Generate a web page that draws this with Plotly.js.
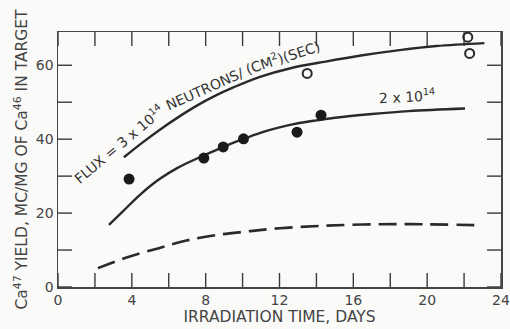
<!DOCTYPE html>
<html>
<head>
<meta charset="utf-8">
<script src="https://cdn.plot.ly/plotly-3.0.1.min.js"></script>
<style>html,body{margin:0;padding:0;background:#fafaf8;}#chart{width:510px;height:329px;}</style>
</head>
<body>
<div id="chart"></div>
<script>
// Curve: flux 3x10^14 (solid)
const curve3e14X = [3.57, 4.5, 5.5, 6.5, 7.5, 8.5, 9.5, 10.9, 12.6, 14.5, 16.5, 18.5, 20.5, 23.1];
const curve3e14Y = [35.1, 38.8, 42.5, 45.9, 49.0, 51.7, 54.0, 56.8, 59.2, 61.0, 62.7, 64.1, 65.2, 66.0];
// Curve: flux 2x10^14 (solid)
const curve2e14X = [2.76, 3.5, 4.5, 5.5, 6.5, 7.5, 9.0, 10.0, 11.0, 12.0, 13.0, 14.0, 15.0, 17.0, 19.0, 22.05];
const curve2e14Y = [16.8, 20.4, 25.2, 29.2, 32.3, 34.7, 38.0, 40.0, 41.8, 43.2, 44.3, 45.1, 45.8, 46.8, 47.6, 48.3];
// Lower dashed curve
const dashedX = [2.16, 3.84, 5.46, 6.9, 8.5, 10.2, 12.0, 14.1, 16.5, 19.1, 22.9];
const dashedY = [5.1, 8.2, 10.5, 12.5, 14.0, 15.0, 15.9, 16.5, 16.9, 17.0, 16.7];
// Measured points
const openX = [13.5, 22.2, 22.3];
const openY = [57.8, 67.6, 63.2];
const filledX = [3.85, 7.9, 8.95, 10.05, 12.95, 14.25];
const filledY = [29.2, 34.9, 37.9, 40.1, 41.9, 46.5];
// Axis ticks
const xTickVals = [0, 2, 4, 6, 8, 10, 12, 14, 16, 18, 20, 22, 24];
const xTickText = ["0", "", "4", "", "8", "", "12", "", "16", "", "20", "", "24"];
const yTickVals = [0, 10, 20, 30, 40, 50, 60];
const yTickText = ["0", "", "20", "", "40", "", "60"];

const ink = '#2a2a2a';
const font = 'DejaVu Sans, sans-serif';
const W = 510, H = 329;
const M = {l: 58, r: 9, t: 32, b: 42};
const X_RANGE = [0, 24], Y_RANGE = [0, 69];
const TICK_PX = 14;
// tick length converted into data units through the axis scales
const xPerPx = (X_RANGE[1] - X_RANGE[0]) / (W - M.l - M.r);
const yPerPx = (Y_RANGE[1] - Y_RANGE[0]) / (H - M.t - M.b);
const tx = [], ty = [];
xTickVals.forEach(v => {
  tx.push(v, v, null, v, v, null);
  ty.push(Y_RANGE[0], Y_RANGE[0] + TICK_PX * yPerPx, null, Y_RANGE[1], Y_RANGE[1] - TICK_PX * yPerPx, null);
});
yTickVals.forEach(v => {
  tx.push(X_RANGE[0], X_RANGE[0] + TICK_PX * xPerPx, null, X_RANGE[1], X_RANGE[1] - TICK_PX * xPerPx, null);
  ty.push(v, v, null, v, v, null);
});

const traces = [
  {x: tx, y: ty, mode: 'lines', line: {color: '#3a3a3a', width: 1.4}, connectgaps: false, hoverinfo: 'skip'},
  {x: curve3e14X, y: curve3e14Y, mode: 'lines', line: {color: ink, width: 2.4, shape: 'spline', smoothing: 1}},
  {x: curve2e14X, y: curve2e14Y, mode: 'lines', line: {color: ink, width: 2.4, shape: 'spline', smoothing: 1}},
  {x: dashedX, y: dashedY, mode: 'lines', line: {color: ink, width: 2.6, shape: 'spline', smoothing: 1, dash: '18px,8px'}},
  {x: openX, y: openY, mode: 'markers', marker: {symbol: 'circle-open', size: 9, color: ink, line: {width: 2, color: ink}}},
  {x: filledX, y: filledY, mode: 'markers', marker: {symbol: 'circle', size: 11, color: '#1a1a1a'}}
];

const axisCommon = {
  showgrid: false, zeroline: false, ticks: '',
  showline: true, mirror: true, linecolor: '#444', linewidth: 1.5,
  ticklabeloverflow: 'allow',
  tickfont: {family: font, size: 14, color: '#444'}
};

const layout = {
  width: W, height: H,
  margin: M,
  paper_bgcolor: '#fafaf8', plot_bgcolor: '#fafaf8',
  showlegend: false,
  xaxis: Object.assign({}, axisCommon, {
    range: X_RANGE, tickvals: xTickVals, ticktext: xTickText,
    title: {text: 'IRRADIATION TIME, DAYS', font: {family: font, size: 15.5, color: '#444'}, standoff: 3}
  }),
  yaxis: Object.assign({}, axisCommon, {
    range: Y_RANGE, tickvals: yTickVals, ticktext: yTickText,
    title: {text: 'Ca<sup>47</sup> YIELD, MC/MG OF Ca<sup>46</sup> IN TARGET', font: {family: font, size: 15.5, color: '#444'}, standoff: 4}
  }),
  annotations: [
    {x: 3.3, y: 38.6, xref: 'x', yref: 'y', text: 'FLUX = 3 x 10<sup>14</sup>', showarrow: false, textangle: -40, font: {family: font, size: 14, color: '#333'}},
    {x: 7.95, y: 53.6, xref: 'x', yref: 'y', text: 'NEUTRONS/', showarrow: false, textangle: -24, font: {family: font, size: 14, color: '#333'}},
    {x: 12.15, y: 62.2, xref: 'x', yref: 'y', text: '(CM<sup>2</sup>)(SEC)', showarrow: false, textangle: -18, font: {family: font, size: 14, color: '#333'}},
    {x: 18.9, y: 51.6, xref: 'x', yref: 'y', text: '2 x 10<sup>14</sup>', showarrow: false, textangle: -3, font: {family: font, size: 14, color: '#333'}}
  ]
};

Plotly.newPlot('chart', traces, layout, {staticPlot: true, displayModeBar: false});
</script>
</body>
</html>
